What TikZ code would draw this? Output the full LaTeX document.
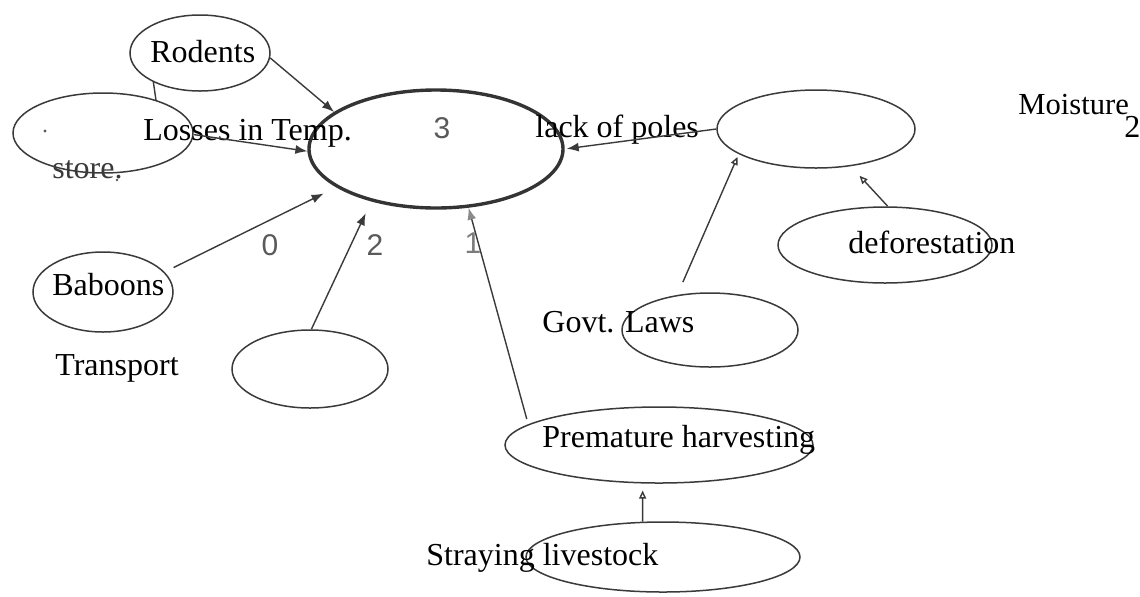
\documentclass[tikz,border=0pt]{standalone}
\usepackage{fontspec}
\setmainfont{Liberation Serif}
\newfontfamily\numfont{Liberation Sans}
\usetikzlibrary{shapes.geometric,arrows.meta}
\definecolor{ink}{HTML}{3A3A3A}
\definecolor{soft}{HTML}{5A5A5A}
\tikzset{
  oval/.style={ellipse, draw=ink, line width=0.75pt, inner sep=0pt},
  core/.style={ellipse, draw=ink!90!black, line width=1.7pt, inner sep=0pt},
  lbl/.style={inner sep=0pt, font=\fontsize{16}{19}\selectfont},
  num/.style={inner sep=0pt, text=soft, font=\numfont\fontsize{15}{18}\selectfont},
  link/.style={draw=ink, line width=0.7pt},
  hit/.style={link, -{Latex[length=6pt,width=4.5pt]}},
  nudge/.style={link, -{Triangle[open,length=4pt,width=3.5pt]}}
}
\begin{document}
\begin{tikzpicture}[x=0.5pt,y=-0.5pt]
\useasboundingbox (0,0) rectangle (1140,596);

% ellipses (radii in pixels: minimum width = rx pt, minimum height = ry pt)
\node[core, minimum width=127pt, minimum height=59pt] (main) at (436,149) {};
\node[oval, minimum width=70pt,  minimum height=38pt] (rod)  at (200,53)  {};
\node[oval, minimum width=90pt,  minimum height=40pt] (los)  at (103,133) {};
\node[oval, minimum width=70pt,  minimum height=40pt] (bab)  at (103,292) {};
\node[oval, minimum width=78pt,  minimum height=39pt] (trn)  at (310,369) {};
\node[oval, minimum width=99pt,  minimum height=39pt] (pol)  at (816,129) {};
\node[oval, minimum width=107pt, minimum height=38pt] (def)  at (885,245) {};
\node[oval, minimum width=88pt,  minimum height=37pt] (gov)  at (710,330) {};
\node[oval, minimum width=154pt, minimum height=38pt] (pre)  at (659,445) {};
\node[oval, minimum width=137pt, minimum height=35pt] (str)  at (663,557) {};

% labels
\node[lbl, anchor=base west] (tRod) at (150,62)  {Rodents};
\node[lbl, anchor=base west] (tLos) at (143,140) {Losses in Temp.};
\node[lbl, anchor=base west, text=ink] (tSto) at (52,178) {store.};
\node[lbl, anchor=base west] (tLack) at (535,137) {lack of poles};
\node[lbl, anchor=base west, font=\fontsize{15.3}{18}\selectfont] (tMoi) at (1018,114) {Moisture};
\node[lbl, anchor=base west] (tTwo) at (1124,137) {2};
\node[lbl, anchor=base west] (tDef) at (848,253) {deforestation};
\node[lbl, anchor=base west] (tBab) at (52,295)  {Baboons};
\node[lbl, anchor=base west] (tTra) at (55,375)  {Transport};
\node[lbl, anchor=base west] (tGov) at (542,332) {Govt. Laws};
\node[lbl, anchor=base west] (tPre) at (542,447) {Premature harvesting};
\node[lbl, anchor=base west] (tStr) at (426,565) {Straying livestock};

% scores
\node[num, anchor=base] (n3) at (442,138) {3};
\node[num, anchor=base] (n0) at (270,255) {0};
\node[num, anchor=base] (n2) at (375,255) {2};
\node[num, anchor=base, text=soft!80] (n1) at (473,253) {1};

% stray marks
\fill[soft] (45,131) circle (1.6);
\fill[soft] (117,180) circle (1.4);

% connectors
\draw[link] (rod.212.8) -- (los.32);
\draw[hit] (rod.-4) -- (main.160);
\draw[hit] (los.-1) -- (main.181);
\draw[hit, shorten <=5pt, shorten >=7pt] (bab.18) -- (main.201);
\draw[hit, shorten >=6.5pt] (trn.88) -- (main.219);
\draw[hit, -{Latex[length=6pt,width=4.5pt,color=soft!70]}, shorten <=2.7pt] (pre.171.5) -- (main.-61.5);
\draw[hit, shorten >=1pt] (pol.180) -- (main.0.5);
\draw[nudge, shorten <=7pt, shorten >=1.5pt] (gov.133) -- (pol.198);
\draw[nudge, shorten >=6.5pt] (def.86) -- (pol.-47);
\draw[nudge, shorten >=3.5pt] (str.120) -- (pre.-113);
\end{tikzpicture}
\end{document}
